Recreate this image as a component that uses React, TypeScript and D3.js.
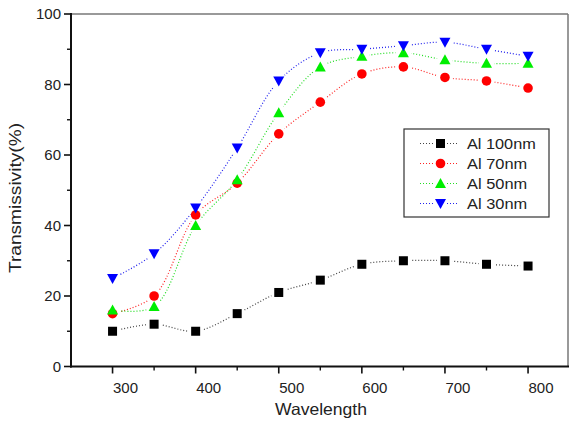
import React from 'react';
import * as d3 from 'd3';

// wavelength (nm) and transmissivity (%)
const wavelengths = [300, 350, 400, 450, 500, 550, 600, 650, 700, 750, 800];
const al100 = [10, 12, 10, 15, 21, 24.5, 29, 30, 30, 29, 28.5];
const al70 = [15, 20, 43, 52, 66, 75, 83, 85, 82, 81, 79];
const al50 = [16, 17, 40, 53, 72, 85, 88, 89, 87, 86, 86];
const al30 = [25, 32, 45, 62, 81, 89, 90, 91, 92, 90, 88];
const seriesNames = ['Al 100nm', 'Al 70nm', 'Al 50nm', 'Al 30nm'];
const xTicks = [300, 400, 500, 600, 700, 800];
const yTicks = [0, 20, 40, 60, 80, 100];

const W = 569;
const H = 421;
const FONT = '"Liberation Sans", Arial, sans-serif';

type Shape = 'square' | 'circle' | 'up' | 'down';

const series = [
  { name: seriesNames[0], values: al100, color: '#000000', line: '#444444', shape: 'square' as Shape },
  { name: seriesNames[1], values: al70, color: '#ff0000', line: '#ff2020', shape: 'circle' as Shape },
  { name: seriesNames[2], values: al50, color: '#00ee00', line: '#22dd22', shape: 'up' as Shape },
  { name: seriesNames[3], values: al30, color: '#0000ff', line: '#2020ee', shape: 'down' as Shape },
];

function Marker({ shape, x, y, color }: { shape: Shape; x: number; y: number; color: string }) {
  if (shape === 'square') return <rect x={x - 4.5} y={y - 4.5} width={9} height={9} fill={color} />;
  if (shape === 'circle') return <circle cx={x} cy={y} r={4.8} fill={color} />;
  if (shape === 'up')
    return <path d={`M${x},${y - 5.5}L${x + 5.5},${y + 4.5}L${x - 5.5},${y + 4.5}Z`} fill={color} />;
  return <path d={`M${x},${y + 5.5}L${x + 5.5},${y - 4.5}L${x - 5.5},${y - 4.5}Z`} fill={color} />;
}

export default function App() {
  const x = d3.scaleLinear().domain([250, 850]).range([71, 569.6]);
  const y = d3.scaleLinear().domain([0, 100]).range([366.5, 14]);

  const line = d3
    .line<number>()
    .x((_, i) => x(wavelengths[i]))
    .y((d) => y(d))
    .curve(d3.curveCatmullRom.alpha(0.5));

  const xMinor = d3.range(350, 800, 100);
  const yMinor = d3.range(10, 100, 20);
  const x0 = x(250);
  const yBase = y(0);

  return (
    <svg
      width={W}
      height={H}
      style={{ position: 'absolute', left: 0, top: 0, background: '#fff' }}
      fontFamily={FONT}
    >
      <defs>
        {series.map((s, k) => (
          <mask id={`gap${k}`} key={k}>
            <rect x={0} y={0} width={W} height={H} fill="#fff" />
            {s.values.map((v, i) => (
              <circle key={i} cx={x(wavelengths[i])} cy={y(v)} r={8} fill="#000" />
            ))}
          </mask>
        ))}
      </defs>

      {/* frame */}
      <line x1={x0} x2={568} y1={y(100)} y2={y(100)} stroke="#777" strokeWidth={1.5} />
      <line x1={568} x2={568} y1={y(100)} y2={yBase} stroke="#777" strokeWidth={1.5} />

      {/* curves */}
      {series.map((s, k) => (
        <path
          key={s.name}
          d={line(s.values) || ''}
          fill="none"
          stroke={s.line}
          strokeWidth={1.2}
          strokeDasharray="1,2"
          mask={`url(#gap${k})`}
        />
      ))}

      {/* markers */}
      {series.map((s) =>
        s.values.map((v, i) => (
          <Marker key={s.name + i} shape={s.shape} x={x(wavelengths[i])} y={y(v)} color={s.color} />
        ))
      )}

      {/* y axis */}
      <line x1={x0} x2={x0} y1={y(100) - 1} y2={yBase + 1} stroke="#111" strokeWidth={2} />
      {yTicks.map((t) => (
        <g key={t}>
          <line x1={x0 - 7} x2={x0} y1={y(t)} y2={y(t)} stroke="#111" strokeWidth={1.6} />
          <text x={61} y={y(t)} dy="0.35em" textAnchor="end" fontSize={15} fill="#222">
            {t}
          </text>
        </g>
      ))}
      {yMinor.map((t) => (
        <line key={t} x1={x0 - 4} x2={x0} y1={y(t)} y2={y(t)} stroke="#111" strokeWidth={1.4} />
      ))}

      {/* x axis */}
      <line x1={x0 - 1} x2={W} y1={yBase} y2={yBase} stroke="#111" strokeWidth={2} />
      {xTicks.map((t) => (
        <g key={t}>
          <line x1={x(t)} x2={x(t)} y1={yBase} y2={yBase + 7} stroke="#111" strokeWidth={1.6} />
          <text x={x(t) + 13} y={392.5} textAnchor="middle" fontSize={15} fill="#222">
            {t}
          </text>
        </g>
      ))}
      {xMinor.map((t) => (
        <line key={t} x1={x(t)} x2={x(t)} y1={yBase} y2={yBase + 4} stroke="#111" strokeWidth={1.4} />
      ))}

      {/* titles */}
      <text x={321} y={415} textAnchor="middle" fontSize={16.5} fill="#222" textLength={92} lengthAdjust="spacingAndGlyphs">
        Wavelength
      </text>
      <text
        transform="translate(21,198) rotate(-90)"
        textAnchor="middle"
        fontSize={16.5}
        fill="#222"
        textLength={150}
        lengthAdjust="spacingAndGlyphs"
      >
        Transmissivity(%)
      </text>

      {/* legend */}
      <rect x={404} y={129} width={145} height={88} fill="#fff" stroke="#333" strokeWidth={1.2} />
      {series.map((s, k) => {
        const ly = 143.5 + k * 20;
        return (
          <g key={s.name}>
            <line x1={420} x2={434} y1={ly} y2={ly} stroke={s.line} strokeWidth={1.2} strokeDasharray="1,2" />
            <line x1={447} x2={457} y1={ly} y2={ly} stroke={s.line} strokeWidth={1.2} strokeDasharray="1,2" />
            <Marker shape={s.shape} x={440.5} y={ly} color={s.color} />
            <text x={467} y={ly} dy="0.36em" fontSize={15.5} fill="#222" textLength={s.name.length * 8.6} lengthAdjust="spacingAndGlyphs">
              {s.name}
            </text>
          </g>
        );
      })}
    </svg>
  );
}
